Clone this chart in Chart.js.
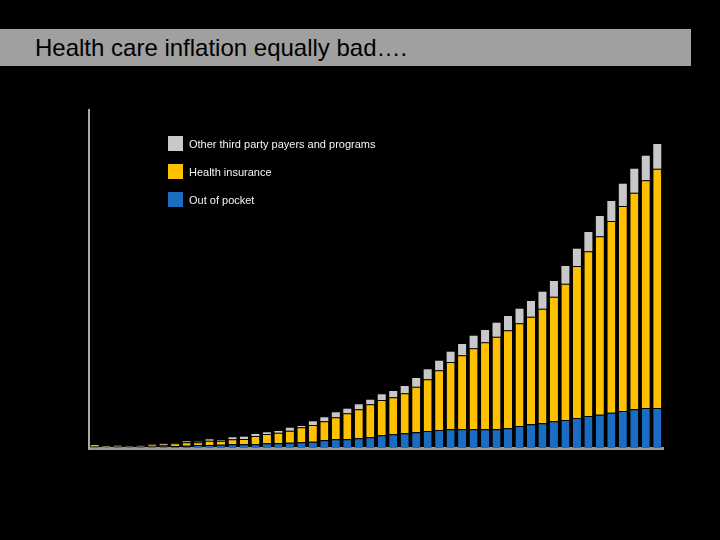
<!DOCTYPE html>
<html>
<head>
<meta charset="utf-8">
<script src="https://cdn.jsdelivr.net/npm/chart.js@4.4.1/dist/chart.umd.min.js"></script>
<style>
  html, body { margin: 0; padding: 0; background: #000; }
  #wrap { position: relative; width: 720px; height: 540px; overflow: hidden; }
  #titulo {
    position: absolute; left: 0; top: 29px; width: 691px; height: 37px;
    background: #a0a0a0; color: #000;
    font-family: "Liberation Sans", Arial, sans-serif; font-size: 24px;
    line-height: 37px; padding-left: 35px; box-sizing: border-box;
  }
  canvas { position: absolute; left: 0; top: 0; }
</style>
</head>
<body>
<div id="wrap">
  <canvas id="grafica" width="720" height="540"></canvas>
  <div id="titulo">Health care inflation equally bad….</div>
</div>
<script>
// Años 1960-2009
const years = [];
for (let y = 1960; y <= 2009; y++) years.push(String(y));

// Valores aproximados (miles de millones)
const outOfPocket = [7, 6, 7, 5, 7, 9, 11, 14, 16, 21, 21, 23, 26, 26, 26, 33, 33, 37, 40, 44,
  54, 61, 61, 68, 75, 89, 96, 103, 110, 119, 126, 131, 131, 131, 131, 131, 138, 154, 166, 173,
  187, 196, 210, 224, 233, 247, 259, 271, 280, 280];
const healthInsurance = [6, 4, 4, 3, 4, 7, 11, 19, 24, 19, 30, 28, 35, 37, 58, 65, 74, 84, 105, 117,
  133, 154, 182, 203, 231, 247, 259, 280, 319, 362, 418, 471, 518, 567, 609, 648, 686, 719, 753, 802,
  872, 954, 1064, 1153, 1249, 1342, 1435, 1516, 1594, 1675];
const otherPayers = [7, 4, 5, 3, 4, 7, 7, 2, 7, 4, 10, 4, 14, 16, 14, 12, 12, 21, 9, 26,
  28, 35, 32, 35, 32, 40, 44, 51, 61, 70, 67, 72, 79, 88, 86, 98, 100, 102, 110, 119,
  110, 124, 121, 135, 142, 140, 156, 168, 172, 173];

const yMax = 2366;

// Leyenda propia dentro del área del gráfico (orden inverso)
const leyendaPlugin = {
  id: 'leyenda',
  afterDraw(chart) {
    const ctx = chart.ctx;
    const sets = chart.data.datasets.slice().reverse();
    ctx.save();
    ctx.font = '11px "Liberation Sans", Arial, sans-serif';
    ctx.textBaseline = 'middle';
    sets.forEach((ds, i) => {
      const top = 136 + i * 28;
      ctx.fillStyle = ds.backgroundColor;
      ctx.fillRect(168, top, 15, 15);
      ctx.fillStyle = '#f4f4f4';
      ctx.fillText(ds.label, 189, top + 9);
    });
    ctx.restore();
  }
};

const ctx = document.getElementById('grafica').getContext('2d');
const grafica = new Chart(ctx, {
  type: 'bar',
  data: {
    labels: years,
    datasets: [
      { label: 'Out of pocket', data: outOfPocket, backgroundColor: '#1a6dc2',
        borderColor: 'rgba(0,0,0,0.5)', borderWidth: { top: 1, left: 0, right: 0, bottom: 0 } },
      { label: 'Health insurance', data: healthInsurance, backgroundColor: '#ffc000',
        borderColor: 'rgba(0,0,0,0.8)', borderWidth: { top: 1, left: 0, right: 0, bottom: 0 } },
      { label: 'Other third party payers and programs', data: otherPayers, backgroundColor: '#c8c8c8',
        borderWidth: 0 }
    ]
  },
  options: {
    responsive: false,
    animation: false,
    layout: { padding: { left: 81, right: 57, top: 110, bottom: 84 } },
    datasets: { bar: { barPercentage: 0.7, categoryPercentage: 1.0, borderSkipped: false } },
    plugins: { legend: { display: false }, tooltip: { enabled: false } },
    scales: {
      x: {
        stacked: true,
        grid: { display: false },
        ticks: { display: false },
        border: { display: true, color: '#999999', width: 3 }
      },
      y: {
        stacked: true,
        min: 0,
        max: yMax,
        grid: { display: false },
        ticks: { display: false },
        border: { display: true, color: '#aaaaaa', width: 2 }
      }
    }
  },
  plugins: [leyendaPlugin]
});
</script>
</body>
</html>
